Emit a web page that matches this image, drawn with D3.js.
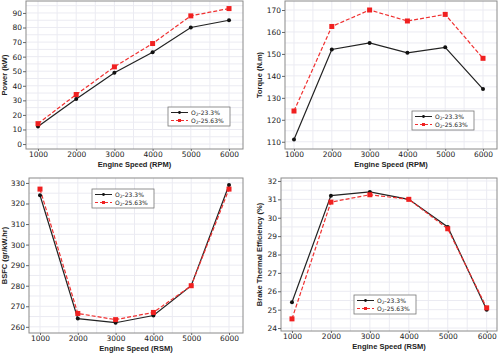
<!DOCTYPE html>
<html lang="en">
<head>
<meta charset="UTF-8">
<title>engine O2 charts</title>
<script src="https://d3js.org/d3.v7.min.js"></script>
<style>
    body { margin: 0; background: #fff; }
    svg { display: block; }
    .tick text { font-family: "DejaVu Sans", sans-serif; font-size: 7.5px; fill: #222; }
    .axis-title { font-family: "Liberation Sans", Arial, sans-serif; font-weight: bold; font-size: 7.5px; fill: #222; }
    .legend text { font-family: "DejaVu Sans", sans-serif; font-size: 6px; fill: #222; }
</style>
</head>
<body>
<div id="chart"></div>
<script>
    // data
    const speeds = [1000, 2000, 3000, 4000, 5000, 6000]
    const seriesNames = ['23.3%', '25.63%']

    const powerA = [12, 31, 49, 63, 80, 85]
    const powerB = [14, 34, 53, 69, 88, 93]

    const torqueA = [111, 152, 155, 150.5, 153, 134]
    const torqueB = [124, 162.5, 170, 165, 168, 148]

    const bsfcA = [324, 264, 262, 265.5, 280, 329]
    const bsfcB = [327, 266.5, 263.5, 267, 280, 327]

    const bteA = [25.4, 31.2, 31.4, 31, 29.5, 25]
    const bteB = [24.5, 30.85, 31.25, 31, 29.4, 25.1]

    const xTicks = [1000, 2000, 3000, 4000, 5000, 6000]
    const powerTicks = d3.range(0, 91, 10)
    const torqueTicks = d3.range(110, 171, 10)
    const bsfcTicks = d3.range(260, 331, 10)
    const bteTicks = d3.range(24, 33, 1)

    const W = 500, H = 353

    const svg = d3.select('#chart').append('svg')
        .attr('width', W).attr('height', H)

    const panels = [
        { box: [26, 1, 243, 149], xDom: [686, 6366], yDom: [-3.4, 98.2], yTicks: powerTicks, minor: 5,
          a: powerA, b: powerB, yTitle: 'Power (kW)', xTitle: 'Engine Speed (RPM)', titleX: 4,
          legend: [168, 107] },
        { box: [285, 1, 497, 149], xDom: [762, 6370], yDom: [106.7, 174.1], yTicks: torqueTicks, minor: 5,
          a: torqueA, b: torqueB, yTitle: 'Torque (N.m)', xTitle: 'Engine Speed (RPM)', titleX: 259,
          legend: [412, 111] },
        { box: [29, 178, 243, 333], xDom: [709, 6370], yDom: [257, 332.4], yTicks: bsfcTicks, minor: 5,
          a: bsfcA, b: bsfcB, yTitle: 'BSFC (gr/kW.hr)', xTitle: 'Engine Speed (RSM)', titleX: 4,
          legend: [92, 189] },
        { box: [281, 178, 497, 331], xDom: [718, 6265], yDom: [23.84, 32.16], yTicks: bteTicks, minor: 0.5,
          a: bteA, b: bteB, yTitle: 'Brake Thermal Efficiency (%)', xTitle: 'Engine Speed (RSM)', titleX: 259,
          legend: [354, 295] }
    ]

    panels.forEach(p => {
        const [x0, y0, x1, y1] = p.box
        const x = d3.scaleLinear().domain(p.xDom).range([x0, x1])
        const y = d3.scaleLinear().domain(p.yDom).range([y1, y0])
        const g = svg.append('g')

        // grid lines every half step
        const xMinor = d3.range(500, 6500, 500).filter(v => v > p.xDom[0] && v < p.xDom[1])
        const yMinor = d3.range(Math.ceil(p.yDom[0] / p.minor) * p.minor, p.yDom[1], p.minor)
        g.selectAll('.gx').data(xMinor).enter().append('line')
            .attr('x1', d => x(d)).attr('x2', d => x(d)).attr('y1', y0).attr('y2', y1)
            .attr('stroke', '#ebebf2').attr('stroke-width', 1)
        g.selectAll('.gy').data(yMinor).enter().append('line')
            .attr('y1', d => y(d)).attr('y2', d => y(d)).attr('x1', x0).attr('x2', x1)
            .attr('stroke', '#ebebf2').attr('stroke-width', 1)

        // frame
        g.append('rect').attr('x', x0).attr('y', y0).attr('width', x1 - x0).attr('height', y1 - y0)
            .attr('fill', 'none').attr('stroke', '#8a8a8a').attr('stroke-width', 1)

        // axes
        const xAxis = g.append('g').attr('transform', `translate(0,${y1})`)
            .call(d3.axisBottom(x).tickValues(xTicks).tickSize(2).tickPadding(1).tickFormat(d3.format('d')))
        const yAxis = g.append('g').attr('transform', `translate(${x0},0)`)
            .call(d3.axisLeft(y).tickValues(p.yTicks).tickSize(3).tickPadding(1).tickFormat(d3.format('d')))
        ;[xAxis, yAxis].forEach(a => {
            a.select('.domain').remove()
            a.selectAll('.tick line').attr('stroke', '#666')
        })

        // titles
        g.append('text').attr('class', 'axis-title')
            .attr('x', (x0 + x1) / 2).attr('y', y1 + 18).attr('text-anchor', 'middle')
            .text(p.xTitle)
        g.append('text').attr('class', 'axis-title')
            .attr('transform', `translate(${p.titleX},${(y0 + y1) / 2}) rotate(-90)`)
            .attr('text-anchor', 'middle').attr('dominant-baseline', 'central')
            .text(p.yTitle)

        // lines
        const line = d3.line().x((d, i) => x(speeds[i])).y(d => y(d))
        g.append('path').datum(p.a).attr('d', line)
            .attr('fill', 'none').attr('stroke', '#222').attr('stroke-width', 1.2)
        g.append('path').datum(p.b).attr('d', line)
            .attr('fill', 'none').attr('stroke', '#f03030').attr('stroke-width', 1.2)
            .attr('stroke-dasharray', '4,2')
        g.selectAll('.ma').data(p.a).enter().append('circle')
            .attr('cx', (d, i) => x(speeds[i])).attr('cy', d => y(d))
            .attr('r', 2).attr('fill', '#111')
        g.selectAll('.mb').data(p.b).enter().append('rect')
            .attr('x', (d, i) => x(speeds[i]) - 2.5).attr('y', d => y(d) - 2.5)
            .attr('width', 5).attr('height', 5).attr('fill', '#f02020')

        // legend
        const [lx, ly] = p.legend
        const lg = g.append('g').attr('class', 'legend').attr('transform', `translate(${lx},${ly})`)
        lg.append('rect').attr('width', 62).attr('height', 19)
            .attr('fill', '#fff').attr('stroke', '#777').attr('stroke-width', 0.8)
        seriesNames.forEach((name, i) => {
            const yy = 5.5 + i * 8
            const red = i === 1
            lg.append('line').attr('x1', 3).attr('x2', 20).attr('y1', yy).attr('y2', yy)
                .attr('stroke', red ? '#f03030' : '#222').attr('stroke-width', 1)
                .attr('stroke-dasharray', red ? '3,2' : null)
            if (red) {
                lg.append('rect').attr('x', 10).attr('y', yy - 1.5).attr('width', 3).attr('height', 3)
                    .attr('fill', '#f02020')
            } else {
                lg.append('circle').attr('cx', 11.5).attr('cy', yy).attr('r', 1.4).attr('fill', '#111')
            }
            const t = lg.append('text').attr('x', 23).attr('y', yy + 2)
            t.append('tspan').text('O')
            t.append('tspan').attr('font-size', '4.5px').attr('dy', 1.5).text('2')
            t.append('tspan').attr('dy', -1.5).text('-' + name)
        })
    })
</script>
</body>
</html>
